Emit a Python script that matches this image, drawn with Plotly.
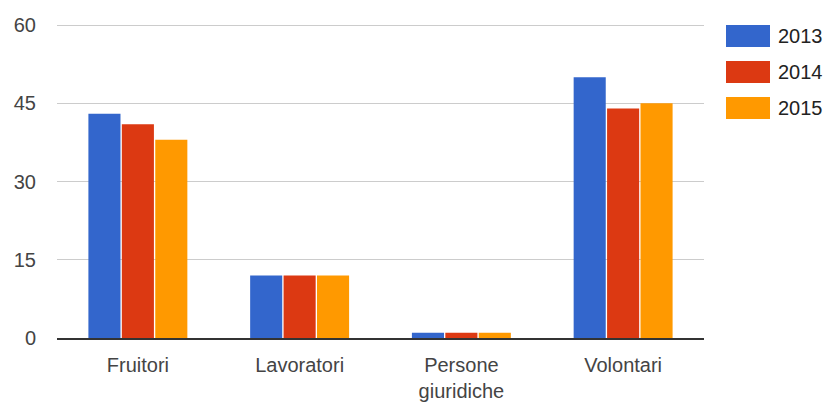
import plotly.graph_objects as go

categories = ["Fruitori", "Lavoratori", "Persone<br>giuridiche", "Volontari"]
series_names = ["2013", "2014", "2015"]
values_2013 = [43, 12, 1, 50]
values_2014 = [41, 12, 1, 44]
values_2015 = [38, 12, 1, 45]
colors = ["#3366cc", "#dc3912", "#ff9900"]
y_ticks = [0, 15, 30, 45, 60]

W, H = 827, 402
L, R, T, B = 57, 123, 23, 64
plot_w = W - L - R
plot_h = H - T - B
FONT = "Liberation Sans, Arial"

fig = go.Figure()
for name, vals, col in zip(series_names, [values_2013, values_2014, values_2015], colors):
    fig.add_trace(go.Bar(x=categories, y=vals, name=name, marker=dict(color=col, line=dict(width=0)),
                         showlegend=False, hoverinfo="skip"))

# custom legend with large swatches (Google Charts style)
shapes = []
annotations = []
for i, (name, col) in enumerate(zip(series_names, colors)):
    top_px = 25 + i * 36
    bot_px = top_px + 22
    x0 = (726 - L) / plot_w
    x1 = (770 - L) / plot_w
    y0 = 1 - (bot_px - T) / plot_h
    y1 = 1 - (top_px - T) / plot_h
    shapes.append(dict(type="rect", xref="paper", yref="paper", x0=x0, x1=x1, y0=y0, y1=y1,
                       fillcolor=col, line=dict(width=0)))
    annotations.append(dict(xref="paper", yref="paper", x=(776 - L) / plot_w, y=(y0 + y1) / 2,
                            text=name, showarrow=False, xanchor="left", yanchor="middle",
                            font=dict(family=FONT, size=20, color="#222222")))

fig.update_layout(
    width=W, height=H,
    margin=dict(l=L, r=R, t=T, b=B, pad=0),
    paper_bgcolor="white", plot_bgcolor="white",
    barmode="group", bargap=0.38, bargroupgap=0.04,
    font=dict(family=FONT, size=20, color="#444444"),
    shapes=shapes, annotations=annotations,
    xaxis=dict(showgrid=False, showline=True, linecolor="#333333", linewidth=1.5, automargin=False,
               ticks="", tickfont=dict(family=FONT, size=20, color="#444444"), ticklabelstandoff=8),
    yaxis=dict(range=[0, 60.4], tickvals=y_ticks, showgrid=True, gridcolor="#cccccc", gridwidth=1,
               automargin=False, zeroline=False, showline=False, ticks="",
               tickfont=dict(family=FONT, size=20, color="#444444"), ticklabelstandoff=20),
)

fig.write_html("out.html", config={"displayModeBar": False},
               post_script="document.body.style.margin='0';document.body.style.padding='0';")
